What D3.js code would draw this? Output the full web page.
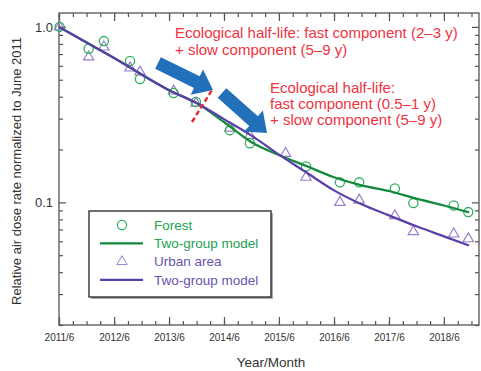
<!DOCTYPE html>
<html>
<head>
<meta charset="utf-8">
<script src="https://cdn.jsdelivr.net/npm/d3@7"></script>
<style>
  body { margin: 0; background: #fff; }
  svg { font-family: "Liberation Sans", Arial, Helvetica, sans-serif; }
</style>
</head>
<body>
<svg width="481" height="371"></svg>
<script>
// measured data (dates of survey, relative dose rate)
const forestDates = ['2011-06-05', '2011-12-15', '2012-03-25', '2012-09-15', '2012-11-20', '2013-07-01',
  '2013-11-27', '2014-07-10', '2014-11-20', '2015-11-28', '2016-07-10', '2016-11-15',
  '2017-07-10', '2017-11-10', '2018-08-05', '2018-11-10'];
const forestValues = [1.0, 0.75, 0.83, 0.64, 0.505, 0.42, 0.373, 0.258, 0.217, 0.16, 0.13, 0.13,
  0.12, 0.099, 0.096, 0.088];

const urbanDates = ['2011-06-05', '2011-12-15', '2012-03-25', '2012-09-15', '2012-11-20', '2013-07-01',
  '2013-11-27', '2014-07-10', '2014-11-20', '2015-07-15', '2015-11-28', '2016-07-10', '2016-11-15',
  '2017-07-10', '2017-11-10', '2018-08-05', '2018-11-10'];
const urbanValues = [1.0, 0.674, 0.768, 0.583, 0.553, 0.431, 0.368, 0.265, 0.241, 0.19, 0.139, 0.1, 0.103,
  0.084, 0.068, 0.066, 0.062];

// two-group model curves
const modelDates = ['2011-06-01', '2012-06-01', '2013-06-01', '2013-12-01', '2014-06-01', '2014-12-01',
  '2015-06-01', '2015-12-01', '2016-06-01', '2016-12-01', '2017-06-01', '2017-12-01', '2018-06-01', '2018-11-15'];
const forestModel = [1.0, 0.665, 0.436, 0.368, 0.287, 0.22, 0.186, 0.161, 0.139, 0.125, 0.116, 0.105, 0.096, 0.0877];
const urbanModel = [1.0, 0.665, 0.436, 0.368, 0.298, 0.24, 0.187, 0.148, 0.117, 0.0975, 0.0843, 0.073, 0.064, 0.0568];

const yearTicks = ['2011/6', '2012/6', '2013/6', '2014/6', '2015/6', '2016/6', '2017/6', '2018/6'];
const yMajor = [1.0, 0.1];
const yMajorLabels = ['1.0', '0.1'];
const yMinor = [0.02, 0.03, 0.04, 0.05, 0.06, 0.07, 0.08, 0.09, 0.2, 0.3, 0.4, 0.5, 0.6, 0.7, 0.8, 0.9];

const parse = d3.timeParse('%Y-%m-%d');
const svg = d3.select('svg');

const pLeft = 59, pRight = 479, pTop = 13, pBottom = 325;
const x = d3.scaleTime()
  .domain([new Date(2011, 5, 1), new Date(2019, 0, 20)])
  .range([pLeft, pRight]);
const y = d3.scaleLog().domain([0.02, 1.2]).range([pBottom, pTop]);

const axisColor = '#555';
const xMajorVals = yearTicks.map((t) => {
  const [yy, mm] = t.split('/');
  return new Date(+yy, +mm - 1, 1);
});
const xMinorVals = d3.timeMonth.range(new Date(2011, 5, 1), new Date(2019, 0, 20), 3);

function styleAxis(g) {
  g.select('.domain').remove();
  g.selectAll('line').attr('stroke', axisColor).attr('stroke-width', 1.2);
  g.selectAll('text').attr('fill', '#333');
}

// bottom + top axes (ticks inside)
svg.append('g').attr('transform', `translate(0,${pBottom})`)
  .call(d3.axisBottom(x).tickValues(xMinorVals).tickSize(-4).tickFormat(''))
  .call(styleAxis);
svg.append('g').attr('transform', `translate(0,${pBottom})`)
  .call(d3.axisBottom(x).tickValues(xMajorVals).tickSize(-8).tickPadding(9)
    .tickFormat((d, i) => yearTicks[i]))
  .call(styleAxis)
  .selectAll('text').attr('font-size', 10).attr('font-family', 'inherit');
svg.append('g').attr('transform', `translate(0,${pTop})`)
  .call(d3.axisTop(x).tickValues(xMinorVals).tickSize(-4).tickFormat(''))
  .call(styleAxis);
svg.append('g').attr('transform', `translate(0,${pTop})`)
  .call(d3.axisTop(x).tickValues(xMajorVals).tickSize(-8).tickFormat(''))
  .call(styleAxis);

// left + right axes
svg.append('g').attr('transform', `translate(${pLeft},0)`)
  .call(d3.axisLeft(y).tickValues(yMinor).tickSize(-4).tickFormat(''))
  .call(styleAxis);
svg.append('g').attr('transform', `translate(${pLeft},0)`)
  .call(d3.axisLeft(y).tickValues(yMajor).tickSize(-7).tickPadding(6)
    .tickFormat((d, i) => yMajorLabels[i]))
  .call(styleAxis)
  .selectAll('text').attr('font-size', 13).attr('font-family', 'inherit');
svg.append('g').attr('transform', `translate(${pRight},0)`)
  .call(d3.axisRight(y).tickValues(yMinor).tickSize(-4).tickFormat(''))
  .call(styleAxis);
svg.append('g').attr('transform', `translate(${pRight},0)`)
  .call(d3.axisRight(y).tickValues(yMajor).tickSize(-7).tickFormat(''))
  .call(styleAxis);

// frame
svg.append('rect')
  .attr('x', pLeft).attr('y', pTop)
  .attr('width', pRight - pLeft).attr('height', pBottom - pTop)
  .attr('fill', 'none').attr('stroke', axisColor).attr('stroke-width', 1.3);

// axis titles
svg.append('text')
  .attr('x', 271).attr('y', 367)
  .attr('text-anchor', 'middle').attr('font-size', 13.5).attr('fill', '#333')
  .text('Year/Month');
svg.append('text')
  .attr('transform', 'translate(21,171) rotate(-90)')
  .attr('text-anchor', 'middle').attr('font-size', 13).attr('fill', '#333')
  .text('Relative air dose rate normalized to June 2011');

const green = '#2fae5c', greenLine = '#12893c';
const purple = '#9a80cc', purpleLine = '#5b3fa8';

// markers
const tri = d3.symbol().type(d3.symbolTriangle).size(46);
svg.append('g').selectAll('path')
  .data(urbanDates.map((d, i) => [parse(d), urbanValues[i]]))
  .join('path')
  .attr('d', tri)
  .attr('transform', (d) => `translate(${x(d[0])},${y(d[1])})`)
  .attr('fill', 'none').attr('stroke', purple).attr('stroke-width', 1.2);

svg.append('g').selectAll('circle')
  .data(forestDates.map((d, i) => [parse(d), forestValues[i]]))
  .join('circle')
  .attr('cx', (d) => x(d[0])).attr('cy', (d) => y(d[1])).attr('r', 4.6)
  .attr('fill', 'none').attr('stroke', green).attr('stroke-width', 1.3);

// model lines
const line = d3.line().x((d) => x(d[0])).y((d) => y(d[1])).curve(d3.curveMonotoneX);
svg.append('path')
  .datum(modelDates.map((d, i) => [parse(d), forestModel[i]]))
  .attr('d', line).attr('fill', 'none').attr('stroke', greenLine).attr('stroke-width', 2.2);
svg.append('path')
  .datum(modelDates.map((d, i) => [parse(d), urbanModel[i]]))
  .attr('d', line).attr('fill', 'none').attr('stroke', purpleLine).attr('stroke-width', 2.2);

// arrows
function arrow(x0, y0, x1, y1, sw, hw, hl) {
  const len = Math.hypot(x1 - x0, y1 - y0);
  const ux = (x1 - x0) / len, uy = (y1 - y0) / len;
  const px = -uy, py = ux;
  const bx = x1 - ux * hl, by = y1 - uy * hl;
  const pts = [
    [x0 + px * sw, y0 + py * sw],
    [bx + px * sw, by + py * sw],
    [bx + px * hw, by + py * hw],
    [x1, y1],
    [bx - px * hw, by - py * hw],
    [bx - px * sw, by - py * sw],
    [x0 - px * sw, y0 - py * sw],
  ];
  return pts.map((p) => p.join(',')).join(' ');
}
const blue = '#2270b9';
svg.append('polygon').attr('points', arrow(158, 63, 213, 90, 6.5, 14, 18)).attr('fill', blue);
svg.append('polygon').attr('points', arrow(222, 93, 267, 133, 6.5, 14, 18)).attr('fill', blue);

// break marker
svg.append('line')
  .attr('x1', 192).attr('y1', 122).attr('x2', 212).attr('y2', 90)
  .attr('stroke', '#e8262e').attr('stroke-width', 2.4).attr('stroke-dasharray', '5,3');

// annotations
const red = '#ee3342';
const ann1 = ['Ecological half-life: fast component (2\u20133 y)', '+ slow component (5\u20139 y)'];
const ann2 = ['Ecological half-life:', 'fast component (0.5\u20131 y)', '+ slow component (5\u20139 y)'];
svg.append('text').attr('font-size', 15).attr('fill', red)
  .selectAll('tspan').data(ann1).join('tspan')
  .attr('x', 175).attr('y', (d, i) => 38 + i * 17).text((d) => d);
svg.append('text').attr('font-size', 15).attr('fill', red)
  .selectAll('tspan').data(ann2).join('tspan')
  .attr('x', 270).attr('y', (d, i) => 93 + i * 16).text((d) => d);

// legend
const lg = svg.append('g');
lg.append('rect').attr('x', 91).attr('y', 213).attr('width', 182).attr('height', 86).attr('fill', '#aaa');
lg.append('rect').attr('x', 89).attr('y', 211).attr('width', 182).attr('height', 86)
  .attr('fill', '#fff').attr('stroke', '#222').attr('stroke-width', 1.3);

const legendItems = [
  { label: 'Forest', kind: 'circle', color: green, text: '#22a352' },
  { label: 'Two-group model', kind: 'line', color: greenLine, text: '#22a352' },
  { label: 'Urban area', kind: 'tri', color: purple, text: '#6a52b0' },
  { label: 'Two-group model', kind: 'line', color: purpleLine, text: '#6a52b0' },
];
legendItems.forEach((it, i) => {
  const cy = 225 + i * 18.3;
  if (it.kind === 'circle') {
    lg.append('circle').attr('cx', 122).attr('cy', cy).attr('r', 4.6)
      .attr('fill', 'none').attr('stroke', it.color).attr('stroke-width', 1.2);
  } else if (it.kind === 'tri') {
    lg.append('path').attr('d', tri).attr('transform', `translate(122,${cy})`)
      .attr('fill', 'none').attr('stroke', it.color).attr('stroke-width', 1);
  } else {
    lg.append('line').attr('x1', 100).attr('x2', 143).attr('y1', cy).attr('y2', cy)
      .attr('stroke', it.color).attr('stroke-width', 2.2);
  }
  lg.append('text').attr('x', 154).attr('y', cy).attr('dy', '0.35em')
    .attr('font-size', 13.5).attr('fill', it.text).text(it.label);
});
</script>
</body>
</html>
